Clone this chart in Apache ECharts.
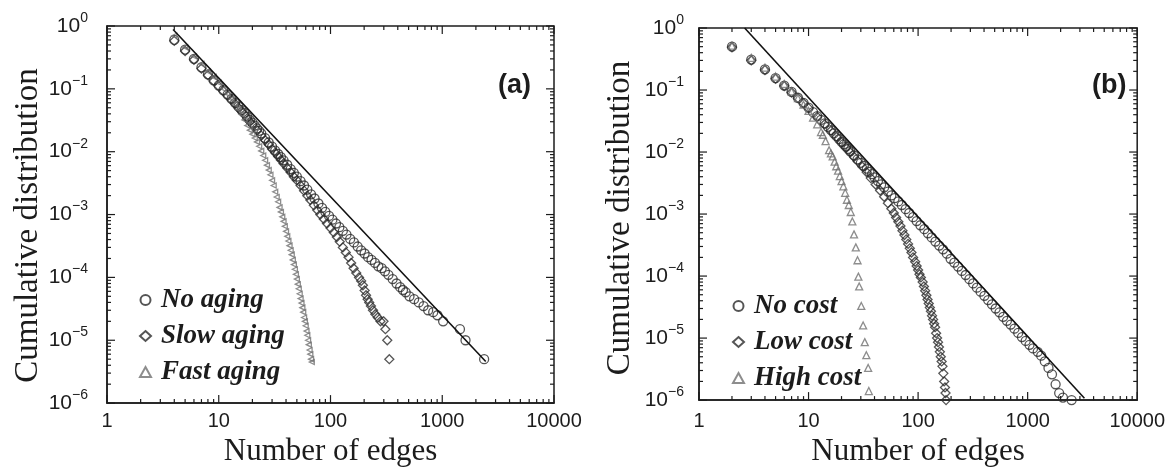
<!DOCTYPE html>
<html><head><meta charset="utf-8">
<script src="https://cdn.jsdelivr.net/npm/echarts@6/dist/echarts.min.js"></script>
<style>html,body{margin:0;padding:0;background:#fff}#c{width:1168px;height:472px}</style>
</head><body><div id="c"></div>
<script>
// ---- tick labels ----
const xTickValues = [1, 10, 100, 1000, 10000];
const xTickLabels = ['1', '10', '100', '1000', '10000'];
const yTickValues = [1, 0.1, 0.01, 0.001, 0.0001, 0.00001, 0.000001];
const yTickExponents = ['0', '\u22121', '\u22122', '\u22123', '\u22124', '\u22125', '\u22126'];

// ---- panel (a) ----
const namesA = ['No aging', 'Slow aging', 'Fast aging'];
const noAging = [[4,.6],[5,.42],[6,.3],[7,.22],[8,.17],[9,.137],[10,.113],[11,.095],[12,.081],[13,.069],[14,.06],[15,.052],[16,.046],[17,.041],[18,.036],[19,.032],[20,.029],[21,.026],[22,.0235],[23,.0215],[24,.0195],[26,.0165],[28,.014],[30,.012],[32,.0104],[34,.0092],[36,.0082],[38,.0073],[41,.0062],[44,.0053],[47,.0046],[50,.004],[54,.0034],[58,.0029],[62,.0025],[67,.0021],[72,.0018],[78,.0015],[84,.00128],[90,.0011],[97,.00095],[104,.00083],[112,.00072],[120,.00063],[129,.00055],[139,.00048],[150,.00041],[162,.00036],[175,.00031],[188,.00027],[202,.00024],[217,.00021],[233,.00019],[250,.00017],[268,.00015],[287,.00014],[307,.000125],[330,.00011],[360,.000094],[390,.00008],[420,.00007],[445,.000063],[471,.000058],[509,.00005],[560,.000045],[617,.00004],[680,.000035],[748,.00003],[830,.000028],[906,.000025],[1018,.00002],[1440,.000015],[1615,.00001],[2370,.000005]];
const slowAging = [[4,.58],[5,.4],[6,.29],[7,.21],[8,.165],[9,.133],[10,.11],[11,.092],[12,.078],[13,.067],[14,.058],[15,.05],[16,.044],[17,.039],[18,.034],[19,.03],[20,.027],[22,.022],[24,.018],[26,.0152],[28,.013],[30,.011],[32,.0096],[34,.0084],[36,.0074],[38,.0065],[41,.0055],[44,.0047],[47,.004],[50,.0035],[54,.0029],[58,.0024],[62,.002],[66,.0017],[71,.0014],[76,.00118],[81,.001],[87,.00085],[93,.00072],[100,.00061],[107,.00052],[114,.00044],[121,.00037],[129,.0003],[137,.00025],[145,.00021],[153,.00017],[161,.00014],[170,.000118],[180,.0001],[188,.000088],[195,.000075],[202,.000062],[208,.000052],[215,.000045],[222,.00004],[230,.000035],[240,.00003],[252,.000026],[265,.000023],[280,.00002],[298,.00002],[310,.000015],[322,.00001],[336,.000005]];
const fastAging = [[4,.7],[5,.46],[6,.33],[7,.25],[8,.19],[9,.155],[10,.125],[11,.1],[12,.083],[13,.069],[14,.057],[15,.047],[16,.039],[17,.032],[18,.026],[19,.022],[20,.019],[21,.0165],[22,.0143],[23,.0122],[24,.0103],[25,.0087],[26,.0073],[27,.0061],[28,.0051],[29,.0043],[30,.0035],[31,.0029],[32,.0023],[33,.0019],[34,.0016],[35,.0013],[36,.0011],[37,.00092],[38,.00078],[39,.00065],[40,.00054],[41,.00045],[42,.00038],[43,.00032],[44,.00027],[45,.00023],[46,.00019],[47,.00016],[48,.000135],[49,.000112],[50,.000094],[51,.000078],[52,.000066],[53,.000055],[54,.000046],[55,.000039],[56,.000033],[57,.000028],[58,.000023],[59,.00002],[60,.000017],[61,.000014],[62,.000012],[63,.00001],[64,.0000085],[65,.000007],[66,.000006],[67,.000005],[68,.0000045]];
const fitA = [[3.9,.88],[2450,.0000046]];

// ---- panel (b) ----
const namesB = ['No cost', 'Low cost', 'High cost'];
const noCost = [[2,.5],[3,.31],[4,.215],[5,.155],[6,.118],[7,.093],[8,.075],[9,.062],[10,.052],[11,.044],[12,.038],[13,.033],[14,.029],[15,.0255],[16,.0225],[17,.02],[18,.018],[19,.0162],[20,.0146],[21,.0133],[22,.0122],[23,.0112],[24,.0103],[26,.0088],[28,.0076],[30,.0067],[32,.006],[34,.0054],[36,.0048],[38,.0044],[40,.0039],[43,.0034],[46,.003],[49,.0027],[53,.0023],[57,.002],[61,.0018],[66,.0016],[71,.0014],[77,.0012],[83,.00104],[90,.00089],[97,.00077],[105,.00066],[114,.00057],[123,.00049],[133,.00042],[144,.00036],[156,.00031],[169,.00027],[183,.00023],[198,.00019],[214,.000165],[232,.000142],[251,.000121],[272,.000104],[294,.000089],[318,.000076],[344,.000065],[372,.000056],[403,.000048],[436,.000041],[472,.000035],[511,.00003],[553,.000026],[598,.000022],[647,.000019],[700,.0000165],[758,.0000142],[820,.0000121],[887,.0000104],[960,.000009],[1040,.0000078],[1120,.0000068],[1236,.000006],[1330,.0000052],[1436,.0000042],[1550,.0000033],[1668,.0000026],[1800,.0000018],[1940,.0000013],[2100,.0000011],[2520,.000001]];
const lowCost = [[2,.49],[3,.3],[4,.21],[5,.152],[6,.116],[7,.091],[8,.074],[9,.061],[10,.051],[12,.037],[14,.028],[16,.022],[18,.0175],[20,.0142],[22,.0118],[24,.0099],[26,.0084],[28,.0072],[31,.0058],[34,.0047],[37,.0038],[41,.003],[45,.0024],[49,.0019],[53,.0015],[57,.00122],[60,.00104],[63,.00088],[66,.00075],[69,.00064],[72,.00054],[75,.00046],[78,.00039],[81,.00033],[84,.00028],[87,.00024],[90,.0002],[94,.00017],[97,.000145],[100,.000125],[103,.000107],[106,.000095],[110,.00008],[113,.000068],[116,.000058],[119,.000049],[122,.000042],[125,.000036],[128,.000031],[131,.000027],[134,.000023],[137,.00002],[140,.000017],[143,.000015],[146,.000012],[149,.00001],[152,.0000086],[155,.0000072],[158,.000006],[161,.000005],[164,.0000042],[167,.0000035],[170,.0000027],[173,.000002],[176,.0000016],[178,.0000013],[180,.000001]];
const highCost = [[2,.52],[3,.33],[4,.23],[5,.165],[6,.125],[7,.095],[8,.074],[9,.058],[10,.046],[11,.036],[12,.028],[13,.021],[13.5,.019],[14.3,.015],[15.4,.0107],[16,.0095],[16.6,.0085],[17.3,.007],[17.9,.0059],[18.6,.005],[19.3,.0041],[20,.0034],[20.8,.0028],[21.6,.0022],[22.4,.0017],[23.3,.0014],[24.3,.00108],[25.1,.00076],[26,.00047],[27,.00029],[28,.00018],[28.5,.000098],[29,.000068],[30.3,.000033],[31.5,.000016],[32.6,.0000086],[33.7,.0000053],[35,.0000033],[35.5,.0000014]];
const fitB = [[2.61,1],[3300,.00000107]];

// ---- tick positions (axis decoration, not data) ----
const minorX = [];
xTickValues.slice(0, -1).forEach(d => { for (let m = 2; m <= 9; m++) minorX.push(d * m); });
const minorY = [];
yTickValues.slice(1).forEach(d => { for (let m = 2; m <= 9; m++) minorY.push(d * m); });
const xTickData = xTickValues.map(v => [v, 0.001, 1]).concat(minorX.map(v => [v, 0.001, 0]));
const yTickData = yTickValues.map(v => [10, v, 1]).concat(minorY.map(v => [10, v, 0]));

const INK = '#1c1c1c';
const SANS = 'Liberation Sans';
const SERIF = 'Liberation Serif';

function renderXTicks(params, api) {
  const cs = params.coordSys;
  const x = api.coord([api.value(0), api.value(1)])[0];
  const len = api.value(2) ? 8 : 4;
  const b = cs.y + cs.height, t = cs.y;
  const st = { stroke: INK, lineWidth: 1.2 };
  return { type: 'group', children: [
    { type: 'line', shape: { x1: x, y1: b, x2: x, y2: b - len }, style: st },
    { type: 'line', shape: { x1: x, y1: t, x2: x, y2: t + len }, style: st }
  ]};
}
function renderYTicks(params, api) {
  const cs = params.coordSys;
  const y = api.coord([api.value(0), api.value(1)])[1];
  const len = api.value(2) ? 8 : 4;
  const l = cs.x, r = cs.x + cs.width;
  const st = { stroke: INK, lineWidth: 1.2 };
  return { type: 'group', children: [
    { type: 'line', shape: { x1: l, y1: y, x2: l + len, y2: y }, style: st },
    { type: 'line', shape: { x1: r, y1: y, x2: r - len, y2: y }, style: st }
  ]};
}

function xAxisCfg(gridIndex, margin, nameGap) {
  return {
    type: 'log', logBase: 10, gridIndex, min: 1, max: 10000, splitNumber: 4,
    name: 'Number of edges', nameLocation: 'middle', nameGap,
    nameTextStyle: { fontFamily: SERIF, fontSize: 31, color: INK },
    axisLine: { show: true, lineStyle: { color: INK, width: 1.5 } },
    axisTick: { show: false }, splitLine: { show: false }, minorTick: { show: false },
    axisLabel: { margin, fontFamily: SANS, fontSize: 20, color: INK,
      formatter: v => xTickLabels[Math.round(Math.log10(v))] }
  };
}
function yAxisCfg(gridIndex, margin, nameGap, shift) {
  return {
    type: 'log', logBase: 10, gridIndex, min: 0.000001, max: 1, splitNumber: 6,
    name: 'Cumulative distribution', nameLocation: 'middle', nameGap, nameRotate: 90,
    nameTextStyle: { fontFamily: SERIF, fontSize: 33, color: INK, padding: [0, shift, 0, 0] },
    axisLine: { show: true, lineStyle: { color: INK, width: 1.5 } },
    axisTick: { show: false }, splitLine: { show: false }, minorTick: { show: false },
    axisLabel: { margin, color: INK,
      formatter: v => '{b|10}{s|' + yTickExponents[Math.round(-Math.log10(v))] + '}',
      rich: {
        b: { fontFamily: SANS, fontSize: 21, lineHeight: 30, verticalAlign: 'middle', color: INK },
        s: { fontFamily: SANS, fontSize: 14, lineHeight: 16, verticalAlign: 'top', color: INK }
      } }
  };
}
function scatter(name, data, axisIdx, symbol, size, color, rotate) {
  return { type: 'scatter', name, data, xAxisIndex: axisIdx, yAxisIndex: axisIdx,
    symbol, symbolSize: size, symbolRotate: rotate || 0, symbolKeepAspect: true,
    itemStyle: { color: 'rgba(255,255,255,0)', borderColor: color, borderWidth: 1.3 },
    emphasis: { disabled: true }, z: 3 };
}
function fitLine(data, axisIdx) {
  return { type: 'line', data, xAxisIndex: axisIdx, yAxisIndex: axisIdx, showSymbol: false,
    lineStyle: { color: '#111', width: 1.6 }, z: 4, silent: true };
}
function tickSeries(axisIdx, data, render) {
  return { type: 'custom', coordinateSystem: 'cartesian2d', xAxisIndex: axisIdx, yAxisIndex: axisIdx,
    data, renderItem: render, silent: true, z: 5 };
}
function legendCfg(names, left, top) {
  return { data: names, orient: 'vertical', left, top, itemWidth: 11, itemHeight: 10, itemGap: 6,
    selectedMode: false, symbolKeepAspect: true,
    textStyle: { fontFamily: SERIF, fontStyle: 'italic', fontWeight: 'bold', fontSize: 27, lineHeight: 30, color: INK, padding: [0, 0, 0, 5] } };
}

const chart = echarts.init(document.getElementById('c'), null, { renderer: 'canvas' });
chart.setOption({
  backgroundColor: '#ffffff',
  animation: false,
  title: [
    { text: '(a)', left: 493, top: 67, textStyle: { fontFamily: SANS, fontWeight: 'bold', fontSize: 27, color: INK } },
    { text: '(b)', left: 1087, top: 67, textStyle: { fontFamily: SANS, fontWeight: 'bold', fontSize: 27, color: INK } }
  ],
  grid: [
    { left: 107, top: 26, width: 447, height: 378, show: true, borderColor: INK, borderWidth: 1.5, backgroundColor: 'transparent' },
    { left: 699, top: 28, width: 454, height: 386, show: true, borderColor: INK, borderWidth: 1.5, backgroundColor: 'transparent' }
  ],
  xAxis: [xAxisCfg(0, 8, 27), xAxisCfg(1, 11, 31)],
  yAxis: [yAxisCfg(0, 19, 62, 22), yAxisCfg(1, 15, 62, 8)],
  legend: [legendCfg(namesA, 134, 280), legendCfg(namesB, 727, 286)],
  series: [
    scatter(namesA[0], noAging, 0, 'circle', 9, '#2a2a2a'),
    scatter(namesA[1], slowAging, 0, 'diamond', 9, '#2a2a2a'),
    scatter(namesA[2], fastAging, 0, 'triangle', 5, '#707070', 90),
    fitLine(fitA, 0),
    scatter(namesB[0], noCost, 1, 'circle', 9, '#2a2a2a'),
    scatter(namesB[1], lowCost, 1, 'diamond', 9, '#2a2a2a'),
    scatter(namesB[2], highCost, 1, 'triangle', 7, '#707070'),
    fitLine(fitB, 1),
    tickSeries(0, xTickData, renderXTicks),
    tickSeries(0, yTickData, renderYTicks),
    tickSeries(1, xTickData, renderXTicks),
    tickSeries(1, yTickData, renderYTicks)
  ]
});
</script></body></html>
